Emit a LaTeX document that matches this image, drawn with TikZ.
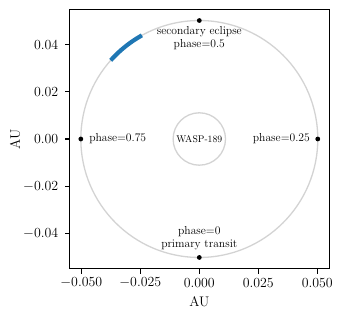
\documentclass[tikz,border=0pt]{standalone}
\RequirePackage{fix-cm}
\usetikzlibrary{positioning}

\definecolor{mplblue}{HTML}{1F77B4}
\definecolor{orbitgray}{HTML}{D3D3D3}

\tikzset{
  frame/.style={draw=black, line width=1.1pt},
  tick/.style={draw=black, line width=1.1pt},
  ticklabel/.style={font=\fontsize{13.9}{16}\selectfont, inner sep=0pt},
  axlabel/.style={font=\fontsize{13.9}{16}\selectfont, inner sep=0pt},
  orbit/.style={draw=orbitgray, line width=1.3pt},
  starbody/.style={circle, draw=orbitgray, line width=1.3pt, minimum size=52.4pt, inner sep=0pt, font=\fontsize{9.7}{11}\selectfont},
  phasedot/.style={circle, fill=black, minimum size=4.8pt, inner sep=0pt},
  phaselabel/.style={font=\fontsize{11.6}{13}\selectfont, align=center, inner sep=0pt},
  visible/.style={draw=mplblue, line width=4.2pt, line cap=rect},
}

\begin{document}
\begin{tikzpicture}[x=2360pt, y=2360pt]
  \useasboundingbox (-0.08445,-0.07712) rectangle (0.06174,0.0589);

  % Bahn und Stern
  \draw[orbit] (0,0) circle (0.0502);
  \node[starbody] (star) at (0,0) {WASP-189};
  \draw[visible] (137.4:0.0502) arc (137.4:120:0.0502);

  % Phasenpunkte
  \node[phasedot] (p0)  at (0,-0.0502) {};
  \node[phasedot] (p25) at (0.0502,0)  {};
  \node[phasedot] (p50) at (0,0.0502)  {};
  \node[phasedot] (p75) at (-0.0502,0) {};

  % Beschriftungen
  \node[phaselabel] (l50) at (0,0.0426)  {secondary eclipse\\phase=0.5};
  \node[phaselabel] (l0)  at (0,-0.0422) {phase=0\\primary transit};
  \node[phaselabel, anchor=west] (l75) at (-0.0467,0) {phase=0.75};
  \node[phaselabel, anchor=east] (l25) at (0.0469,0)  {phase=0.25};

  % Achsen
  \draw[frame] (-0.055,-0.055) rectangle (0.055,0.055);
  \foreach \x/\t [count=\i] in {-0.05/$-0.050$, -0.025/$-0.025$, 0/$0.000$, 0.025/$0.025$, 0.05/$0.050$}{
    \draw[tick] (\x,-0.055) -- ++(0,-4.9pt);
    \node[ticklabel] (xt\i) at (\x,-0.0610) {\t};
  }
  \foreach \y/\t [count=\i] in {-0.04/$-0.04$, -0.02/$-0.02$, 0/$0.00$, 0.02/$0.02$, 0.04/$0.04$}{
    \draw[tick] (-0.055,\y) -- ++(-4.9pt,0);
    \node[ticklabel, anchor=east] (yt\i) at (-0.0597,\y) {\t};
  }
  \node[axlabel] (xlab) at (0,-0.0691) {AU};
  \node[axlabel, rotate=90] (ylab) at (-0.0781,0) {AU};
\end{tikzpicture}
\end{document}
